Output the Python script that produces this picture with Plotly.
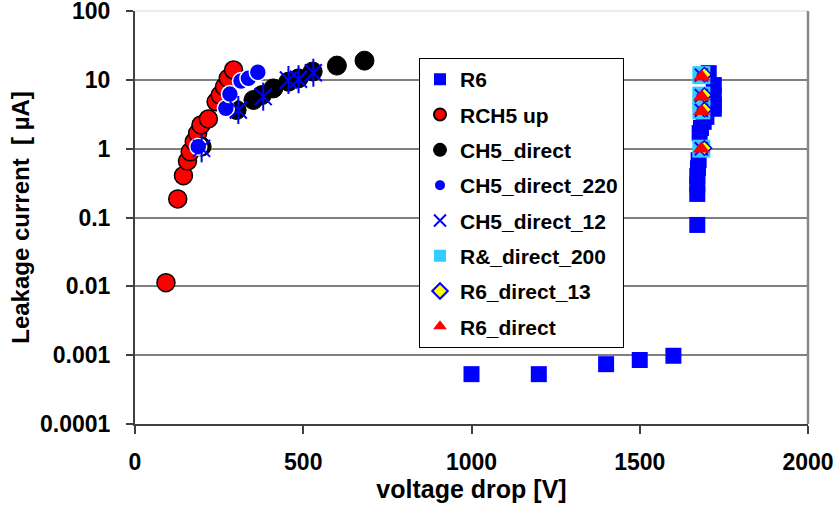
import plotly.graph_objects as go

# ---------------- data ----------------
r6_x = [1000, 1200, 1400, 1500, 1600, 1671, 1671, 1671, 1671, 1673, 1675, 1678, 1682, 1690,
        1698, 1720, 1720, 1720, 1720, 1700, 1705]
r6_y = [0.00053, 0.00053, 0.00074, 0.00085, 0.00098, 0.078, 0.22, 0.30, 0.40, 0.52, 0.68,
        1.69, 2.0, 2.45, 2.9, 3.8, 4.3, 6.0, 8.4, 11.8, 12.5]

rch5_x = [92, 127, 144, 156, 164, 176, 186, 196, 218, 241, 253, 266, 277, 293]
rch5_y = [0.0113, 0.186, 0.405, 0.66, 0.90, 1.26, 1.67, 2.21, 2.70, 4.8, 6.0, 7.9, 10.5, 13.9]

ch5_x = [198, 302, 352, 377, 411, 456, 486, 528, 600, 682]
ch5_y = [1.07, 3.65, 5.1, 6.0, 7.5, 9.4, 10.5, 13.2, 16.1, 19.0]

ch5_220_x = [188, 270, 282, 315, 337, 365]
ch5_220_y = [1.07, 3.87, 6.2, 9.6, 10.5, 12.9]

ch5_12_x = [198, 307, 381, 456, 486, 530]
ch5_12_y = [1.01, 3.65, 5.7, 9.97, 10.2, 12.7]

r_200_x = [1683, 1683, 1683, 1683]
r_200_y = [11.7, 5.9, 3.6, 1.0]

r6_13_x = [1692, 1692, 1692, 1692]
r6_13_y = [11.9, 6.0, 3.7, 1.02]

r6d_x = [1684, 1684, 1684, 1683]
r6d_y = [11.1, 5.7, 3.5, 1.0]

y_tickvals = [0.0001, 0.001, 0.01, 0.1, 1, 10, 100]
y_ticktext = ["0.0001", "0.001", "0.01", "0.1", "1", "10", "100"]
x_tickvals = [0, 500, 1000, 1500, 2000]

FONT = "Liberation Sans, Arial, sans-serif"

fig = go.Figure()

fig.add_trace(go.Scatter(x=r6_x, y=r6_y, mode="markers", name="R6", legendgroup="a",
                         marker=dict(symbol="square", size=16, color="#0000FF",
                                     line=dict(width=0))))
fig.add_trace(go.Scatter(x=rch5_x, y=rch5_y, mode="markers", name="RCH5 up", legendgroup="b",
                         marker=dict(symbol="circle", size=18, color="#FF0000",
                                     line=dict(width=1.5, color="#000000"))))
fig.add_trace(go.Scatter(x=ch5_x, y=ch5_y, mode="markers", name="CH5_direct", legendgroup="c",
                         marker=dict(symbol="circle", size=19, color="#000000",
                                     line=dict(width=1, color="#000000"))))
fig.add_trace(go.Scatter(x=ch5_220_x, y=ch5_220_y, mode="markers", name="CH5_direct_220",
                         legendgroup="d",
                         marker=dict(symbol="circle", size=17, color="#0000FF",
                                     line=dict(width=1.5, color="#FFFFFF"))))
fig.add_trace(go.Scatter(x=ch5_12_x, y=ch5_12_y, mode="markers", name="CH5_direct_12",
                         legendgroup="e",
                         marker=dict(symbol="x-thin-open", size=17, color="#0000FF",
                                     line=dict(width=2, color="#0000FF"))))
fig.add_trace(go.Scatter(x=ch5_12_x, y=ch5_12_y, mode="markers", showlegend=False,
                         legendgroup="e", hoverinfo="skip",
                         marker=dict(symbol="line-ns-open", size=20, color="#0000FF",
                                     line=dict(width=2, color="#0000FF"))))
fig.add_trace(go.Scatter(x=r_200_x, y=r_200_y, mode="markers", name="R&_direct_200",
                         legendgroup="f",
                         marker=dict(symbol="square", size=18, color="#33CCFF",
                                     line=dict(width=0))))
fig.add_trace(go.Scatter(x=r_200_x, y=r_200_y, mode="markers", showlegend=False,
                         legendgroup="f", hoverinfo="skip",
                         marker=dict(symbol="x-thin-open", size=13, color="#0000FF",
                                     line=dict(width=2, color="#0000FF"))))
fig.add_trace(go.Scatter(x=r6_13_x, y=r6_13_y, mode="markers", name="R6_direct_13",
                         legendgroup="g",
                         marker=dict(symbol="diamond", size=11, color="#FFFF00",
                                     line=dict(width=1.5, color="#0000FF"))))
fig.add_trace(go.Scatter(x=r6d_x, y=r6d_y, mode="markers", name="R6_direct",
                         legendgroup="h",
                         marker=dict(symbol="triangle-up", size=15, color="#FF0000",
                                     line=dict(width=0))))

axis_font = dict(family=FONT, size=23, color="#000000", weight="bold")

fig.update_layout(
    width=837, height=506, autosize=False,
    margin=dict(l=135, r=29, t=11, b=82, autoexpand=False),
    paper_bgcolor="#FFFFFF", plot_bgcolor="#FFFFFF",
    font=dict(family=FONT, color="#000000"),
    showlegend=True,
    legend=dict(
        x=0.422, y=0.886, xanchor="left", yanchor="top",
        bgcolor="#FFFFFF", bordercolor="#000000", borderwidth=1,
        font=dict(family=FONT, size=21, color="#000000", weight="bold"),
        itemsizing="constant", traceorder="grouped", tracegroupgap=5,
    ),
    xaxis=dict(
        range=[0, 2000], tickvals=x_tickvals, ticks="outside", ticklen=8, tickwidth=1.5,
        tickcolor="#404040", showline=True, linecolor="#404040", linewidth=2,
        showgrid=False, zeroline=False, tickfont=axis_font, ticklabelstandoff=8,
        automargin=False, ticklabeloverflow="allow",
        title=dict(text="voltage drop [V]", standoff=6,
                   font=dict(family=FONT, size=25, color="#000000", weight="bold")),
    ),
    yaxis=dict(
        type="log", range=[-4, 2], tickvals=y_tickvals, ticktext=y_ticktext,
        ticks="outside", ticklen=7, tickwidth=1.5, tickcolor="#404040",
        showline=True, linecolor="#404040", linewidth=2,
        showgrid=True, gridcolor="#808080", gridwidth=1.5, zeroline=False,
        tickfont=axis_font, ticklabelstandoff=11, automargin=False,
        ticklabeloverflow="allow",
        title=dict(text="Leakage current  [ µA]", standoff=4,
                   font=dict(family=FONT, size=24, color="#000000", weight="bold")),
    ),
    shapes=[
        dict(type="line", xref="paper", yref="paper", x0=0, x1=1, y0=1, y1=1,
             line=dict(color="#D9D9D9", width=1), layer="above"),
        dict(type="line", xref="paper", yref="paper", x0=1, x1=1, y0=0, y1=1,
             line=dict(color="#888888", width=2.5), layer="above"),
    ],
)

fig.write_html("out.html", config={"displayModeBar": False},
               post_script="document.body.style.margin='0px';")
